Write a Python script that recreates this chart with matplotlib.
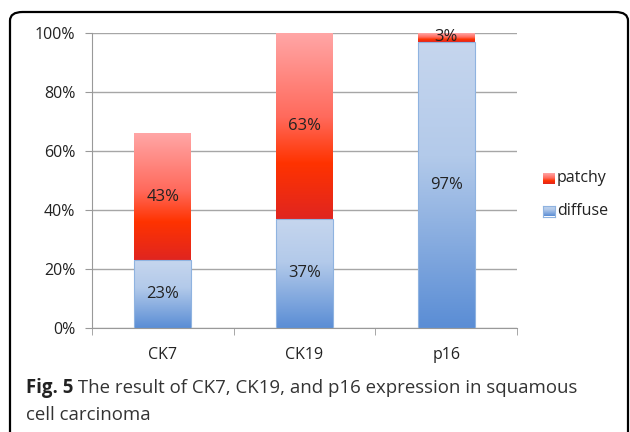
import numpy as np
import matplotlib
matplotlib.use("Agg")
import matplotlib.pyplot as plt
from matplotlib.colors import LinearSegmentedColormap
from matplotlib.patches import FancyBboxPatch

markers = ["CK7", "CK19", "p16"]
diffuse = [23, 37, 97]
patchy = [43, 63, 3]
series_names = ["patchy", "diffuse"]
caption_bold = "Fig. 5"
caption_rest = " The result of CK7, CK19, and p16 expression in squamous"
caption_line2 = "cell carcinoma"

plt.rcParams["font.family"] = ["Open Sans", "DejaVu Sans"]

blue_cmap = LinearSegmentedColormap.from_list(
    "blue", [(0, "#c6d6ee"), (0.4, "#b3caea"), (1, "#5a8dd5")])
red_cmap = LinearSegmentedColormap.from_list(
    "red", [(0, "#ffa6a6"), (0.45, "#ff6a5c"), (0.7, "#ff3300"), (1, "#e02520")])
grad = np.linspace(0, 1, 256).reshape(-1, 1)

fig = plt.figure(figsize=(6.3, 4.32), dpi=100)
ax = fig.add_axes([92 / 630, 1 - 328 / 432, 425 / 630, 295 / 432])

x = np.arange(len(markers))
width = 0.4


def gradient_bars(values, bottoms, cmap, edge):
    bars = ax.bar(x, values, width, bottom=bottoms, facecolor="none",
                  edgecolor=edge, linewidth=0.8, zorder=3)
    for b in bars:
        x0, y0 = b.get_x(), b.get_y()
        img = ax.imshow(grad, cmap=cmap, aspect="auto", zorder=2,
                        extent=[x0, x0 + b.get_width(), y0, y0 + b.get_height()])
        img.set_clip_path(b)
    return bars


gradient_bars(diffuse, 0, blue_cmap, "#8fb3e0")
gradient_bars(patchy, diffuse, red_cmap, "none")

for i in range(len(markers)):
    ax.text(x[i], diffuse[i] / 2, f"{diffuse[i]}%", ha="center", va="center",
            fontsize=12, color="#222222", zorder=4)
    ax.text(x[i], diffuse[i] + patchy[i] / 2, f"{patchy[i]}%", ha="center",
            va="center", fontsize=12, color="#222222", zorder=4)

ax.set_xlim(-0.5, len(markers) - 0.5)
ax.set_ylim(0, 100)
ax.set_yticks(range(0, 101, 20))
ax.set_yticklabels([f"{v}%" for v in range(0, 101, 20)])
ax.set_xticks(x)
ax.set_xticklabels(markers)
ax.set_xticks(np.arange(-0.5, len(markers)), minor=True)
ax.tick_params(axis="x", which="major", length=0, pad=14, labelsize=11.5,
               colors="#222222")
ax.tick_params(axis="x", which="minor", length=5, color="#999999")
ax.tick_params(axis="y", length=5, color="#999999", labelsize=11.5,
               labelcolor="#222222", pad=7)
ax.yaxis.grid(True, color="#a6a6a6", linewidth=1)
ax.set_axisbelow(True)
for s in ["top", "right"]:
    ax.spines[s].set_visible(False)
for s in ["left", "bottom"]:
    ax.spines[s].set_color("#999999")

# legend with gradient swatches
for (name, cmap, edge), ypix in zip(
        [(series_names[0], red_cmap, "none"), (series_names[1], blue_cmap, "#8fb3e0")],
        [178, 211]):
    sw = fig.add_axes([543 / 630, 1 - (ypix + 5.5) / 432, 12 / 630, 11 / 432])
    sw.imshow(grad, cmap=cmap, aspect="auto")
    sw.set_xticks([])
    sw.set_yticks([])
    for sp in sw.spines.values():
        sp.set_visible(edge != "none")
        sp.set_color(edge)
    fig.text(557 / 630, 1 - ypix / 432, name, fontsize=11.5, va="center",
             color="#222222")

# caption
t = fig.text(26 / 630, 1 - 388 / 432, caption_bold, fontsize=13.4,
             fontweight="bold", va="center", color="#222222")
fig.canvas.draw()
bb = t.get_window_extent()
fig.text(bb.x1 / 630, 1 - 388 / 432, caption_rest, fontsize=13.4, va="center",
         color="#333333")
fig.text(26 / 630, 1 - 415 / 432, caption_line2, fontsize=13.4, va="center",
         color="#333333")

# rounded frame
frame = FancyBboxPatch((10 / 630, -0.1), 618 / 630, 1.1 - 12 / 432,
                       boxstyle="round,pad=0,rounding_size=0.02",
                       transform=fig.transFigure, facecolor="none",
                       edgecolor="#000000", linewidth=1.6, clip_on=False)
fig.patches.append(frame)

fig.savefig("out.png", dpi=100)
